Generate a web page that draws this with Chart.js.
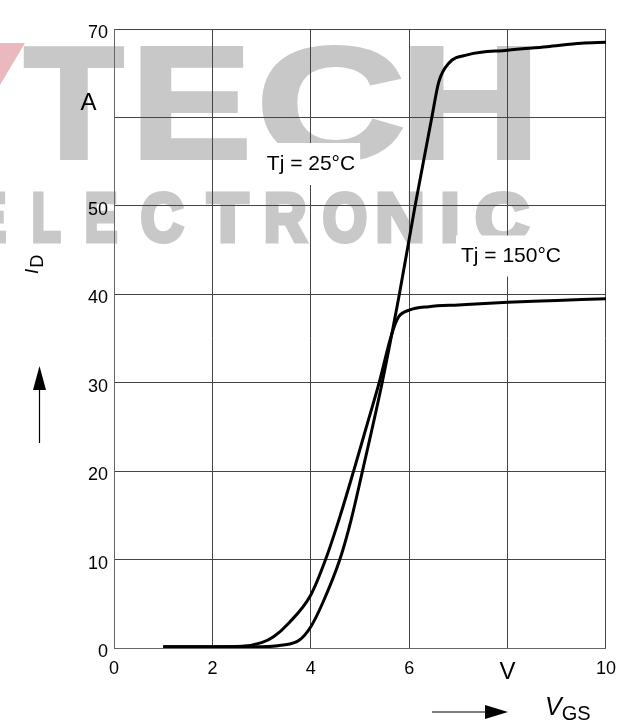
<!DOCTYPE html>
<html>
<head>
<meta charset="utf-8">
<script src="https://cdn.jsdelivr.net/npm/chart.js@4.4.1/dist/chart.umd.min.js"></script>
<style>
html, body { margin: 0; padding: 0; background: #fff; }
#chart { display: block; }
</style>
</head>
<body>
<canvas id="chart" width="626" height="724"></canvas>
<script>
// 数据 - 从图上读出
const vgs25 = [1.0, 2.0, 3.0, 3.4, 3.77, 4.0, 4.25, 4.59, 4.82, 5.05, 5.45, 5.80, 6.12, 6.46, 6.6, 6.8, 7.2, 8.0, 8.8, 9.5, 10.0];
const id25 = [0.15, 0.15, 0.15, 0.3, 0.9, 2.4, 5.2, 10, 14.5, 20, 30, 40, 50, 60, 64, 66.1, 67.1, 67.6, 68.0, 68.4, 68.5];

const vgs150 = [1.0, 2.0, 2.6, 3.0, 3.25, 3.55, 4.0, 4.3, 4.6, 4.87, 5.13, 5.39, 5.64, 5.78, 6.0, 6.4, 7.0, 8.0, 9.0, 10.0];
const id150 = [0.15, 0.15, 0.2, 0.6, 1.3, 2.8, 6.0, 10, 15, 20, 25, 30, 35.4, 37.4, 38.2, 38.6, 38.8, 39.1, 39.3, 39.5];

const xTicks = [0, 2, 4, 6, 8, 10];
const xTickLabels = ['0', '2', '4', '6', 'V', '10'];
const yTicks = [0, 10, 20, 30, 40, 50, 60, 70];
const yTickLabels = ['0', '10', '20', '30', '40', '50', '', '70'];

const seriesLabels = ['Tj = 25°C', 'Tj = 150°C'];

const FONT = '"Liberation Sans", Arial, sans-serif';

// 水印字母 [字符, 左, 右]
const techLetters = [['T', 23, 125], ['E', 140, 247], ['C', 262, 403], ['H', 410, 530]];
const elecLetters = [['E', -25, 7], ['L', 32, 62], ['E', 85, 118], ['C', 140, 185], ['T', 205, 250],
                     ['R', 265, 308], ['O', 322, 368], ['N', 377, 423], ['I', 442, 458], ['C', 475, 530]];

function toPoints(xs, ys) {
    return xs.map((v, i) => ({ x: v, y: ys[i] }));
}

function drawLetters(ctx, letters, size, baseline, extra) {
    ctx.font = 'bold ' + size + 'px ' + FONT;
    ctx.textAlign = 'left';
    ctx.textBaseline = 'alphabetic';
    ctx.lineJoin = 'miter';
    letters.forEach(([ch, l, r]) => {
        const m = ctx.measureText(ch);
        const w = m.actualBoundingBoxLeft + m.actualBoundingBoxRight;
        ctx.save();
        ctx.translate(l + extra / 2, baseline - extra / 2);
        ctx.scale((r - l - extra) / w, 1);
        ctx.fillText(ch, m.actualBoundingBoxLeft, 0);
        if (extra > 0) {
            ctx.lineWidth = extra;
            ctx.strokeText(ch, m.actualBoundingBoxLeft, 0);
        }
        ctx.restore();
    });
}

function boxedText(ctx, text, cx, cy, boxH) {
    ctx.font = '21px ' + FONT;
    const w = ctx.measureText(text).width;
    ctx.fillStyle = '#fff';
    ctx.fillRect(cx - w / 2 - 5, cy - boxH / 2, w + 10, boxH);
    ctx.fillStyle = '#000';
    ctx.textAlign = 'center';
    ctx.textBaseline = 'middle';
    ctx.fillText(text, cx, cy);
}

// 背景水印 + 注释
const decorPlugin = {
    id: 'decor',
    beforeDraw(chart) {
        const ctx = chart.ctx;
        ctx.save();
        // 粉色斜块
        ctx.fillStyle = '#ecb8c0';
        ctx.beginPath();
        ctx.moveTo(0, 43);
        ctx.lineTo(25, 43);
        ctx.lineTo(0, 85);
        ctx.closePath();
        ctx.fill();

        ctx.fillStyle = '#c8c8c8';
        ctx.strokeStyle = '#c8c8c8';
        drawLetters(ctx, techLetters, 160, 160, 4);
        drawLetters(ctx, elecLetters, 68, 243, 5);
        ctx.restore();
    },
    afterDraw(chart) {
        const ctx = chart.ctx;
        ctx.save();

        boxedText(ctx, seriesLabels[0], 311, 164, 42);
        boxedText(ctx, seriesLabels[1], 511, 256, 41);

        // 纵轴单位
        ctx.fillStyle = '#000';
        ctx.font = '24px ' + FONT;
        ctx.textAlign = 'center';
        ctx.textBaseline = 'middle';
        ctx.fillText('A', 88.5, 103);

        // I_D
        ctx.save();
        ctx.translate(38, 274);
        ctx.rotate(-Math.PI / 2);
        ctx.textAlign = 'left';
        ctx.textBaseline = 'alphabetic';
        ctx.font = 'italic 19px ' + FONT;
        ctx.fillText('I', 0, 0);
        const iw = ctx.measureText('I').width;
        ctx.font = '18px ' + FONT;
        ctx.fillText('D', iw + 1, 5);
        ctx.restore();

        // 向上箭头
        ctx.strokeStyle = '#000';
        ctx.lineWidth = 1.2;
        ctx.beginPath();
        ctx.moveTo(39.5, 443);
        ctx.lineTo(39.5, 388);
        ctx.stroke();
        ctx.beginPath();
        ctx.moveTo(33, 390);
        ctx.lineTo(46, 390);
        ctx.lineTo(39.5, 366);
        ctx.closePath();
        ctx.fill();

        // V_GS
        ctx.textAlign = 'left';
        ctx.textBaseline = 'alphabetic';
        ctx.font = 'italic 25px ' + FONT;
        ctx.fillText('V', 545, 715);
        const vw = ctx.measureText('V').width;
        ctx.font = '20px ' + FONT;
        ctx.fillText('GS', 545 + vw, 720);

        // 向右箭头
        ctx.beginPath();
        ctx.moveTo(432, 712);
        ctx.lineTo(487, 712);
        ctx.stroke();
        ctx.beginPath();
        ctx.moveTo(485, 705);
        ctx.lineTo(485, 719);
        ctx.lineTo(508, 712);
        ctx.closePath();
        ctx.fill();

        ctx.restore();
    }
};

const ctx = document.getElementById('chart').getContext('2d');
new Chart(ctx, {
    type: 'line',
    data: {
        datasets: [
            {
                label: seriesLabels[0],
                data: toPoints(vgs25, id25),
                borderColor: '#000',
                borderWidth: 3,
                pointRadius: 0,
                fill: false,
                cubicInterpolationMode: 'monotone'
            },
            {
                label: seriesLabels[1],
                data: toPoints(vgs150, id150),
                borderColor: '#000',
                borderWidth: 3,
                pointRadius: 0,
                fill: false,
                cubicInterpolationMode: 'monotone'
            }
        ]
    },
    options: {
        responsive: false,
        animation: false,
        devicePixelRatio: 1,
        layout: { padding: { left: 0, right: 20, top: 29, bottom: 0 } },
        plugins: {
            legend: { display: false },
            tooltip: { enabled: false }
        },
        scales: {
            x: {
                type: 'linear',
                min: 0,
                max: 10,
                afterBuildTicks: s => { s.ticks = xTicks.map(v => ({ value: v })); },
                afterFit: s => { s.height = 76; },
                grid: { color: '#444', lineWidth: 1, drawTicks: false },
                border: { color: '#666' },
                ticks: {
                    color: '#000',
                    padding: 10,
                    maxRotation: 0,
                    autoSkip: false,
                    font: c => ({ family: FONT, size: (c.tick && c.tick.value === 8) ? 24 : 18 }),
                    callback: v => xTickLabels[xTicks.indexOf(v)]
                }
            },
            y: {
                type: 'linear',
                min: 0,
                max: 70,
                afterBuildTicks: s => { s.ticks = yTicks.map(v => ({ value: v })); },
                afterFit: s => { s.width = 114; },
                grid: { color: '#444', lineWidth: 1, drawTicks: false },
                border: { color: '#666' },
                ticks: {
                    color: '#000',
                    padding: 6,
                    labelOffset: 4,
                    autoSkip: false,
                    font: { family: FONT, size: 18 },
                    callback: v => yTickLabels[yTicks.indexOf(v)]
                }
            }
        }
    },
    plugins: [decorPlugin]
});
</script>
</body>
</html>
